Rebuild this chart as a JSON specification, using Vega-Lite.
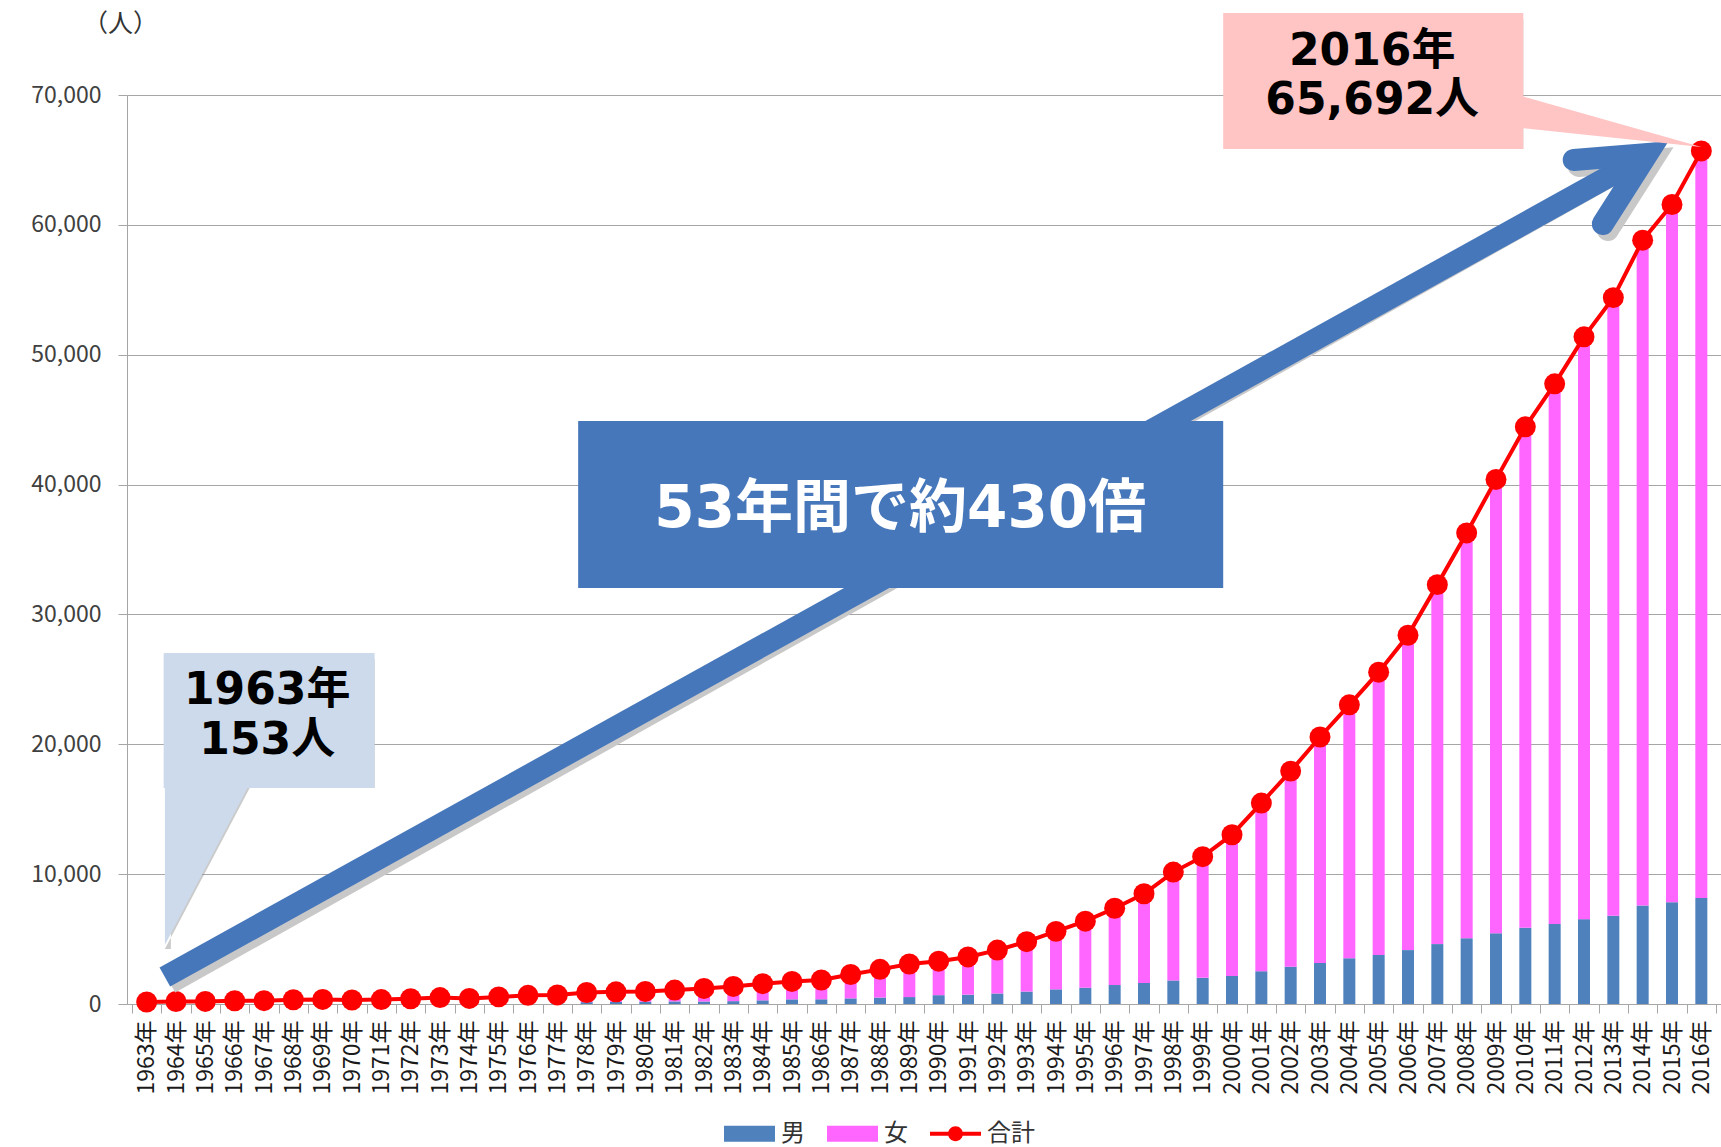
{
  "$schema": "https://vega.github.io/schema/vega-lite/v6.json",
  "autosize": "none",
  "width": 1594,
  "height": 909,
  "padding": {"left": 127, "top": 95, "right": 0, "bottom": 143},
  "background": "white",
  "config": {"view": {"stroke": null}, "font": "Noto Sans CJK JP",
    "axisX": {"labelOverlap": false, "labelBound": false, "labelFlush": false, "grid": false, "title": null}},
  "resolve": {"axis": {"x": "independent"}},
  "datasets": {
    "bars": [
      {"year":1963,"sex":"男","n":20},{"year":1963,"sex":"女","n":133},
      {"year":1964,"sex":"男","n":40},{"year":1964,"sex":"女","n":151},
      {"year":1965,"sex":"男","n":36},{"year":1965,"sex":"女","n":162},
      {"year":1966,"sex":"男","n":42},{"year":1966,"sex":"女","n":210},
      {"year":1967,"sex":"男","n":43},{"year":1967,"sex":"女","n":212},
      {"year":1968,"sex":"男","n":57},{"year":1968,"sex":"女","n":270},
      {"year":1969,"sex":"男","n":57},{"year":1969,"sex":"女","n":295},
      {"year":1970,"sex":"男","n":64},{"year":1970,"sex":"女","n":246},
      {"year":1971,"sex":"男","n":57},{"year":1971,"sex":"女","n":282},
      {"year":1972,"sex":"男","n":73},{"year":1972,"sex":"女","n":332},
      {"year":1973,"sex":"男","n":87},{"year":1973,"sex":"女","n":408},
      {"year":1974,"sex":"男","n":66},{"year":1974,"sex":"女","n":361},
      {"year":1975,"sex":"男","n":102},{"year":1975,"sex":"女","n":446},
      {"year":1976,"sex":"男","n":129},{"year":1976,"sex":"女","n":537},
      {"year":1977,"sex":"男","n":139},{"year":1977,"sex":"女","n":561},
      {"year":1978,"sex":"男","n":143},{"year":1978,"sex":"女","n":744},
      {"year":1979,"sex":"男","n":169},{"year":1979,"sex":"女","n":768},
      {"year":1980,"sex":"男","n":174},{"year":1980,"sex":"女","n":794},
      {"year":1981,"sex":"男","n":200},{"year":1981,"sex":"女","n":872},
      {"year":1982,"sex":"男","n":194},{"year":1982,"sex":"女","n":1007},
      {"year":1983,"sex":"男","n":221},{"year":1983,"sex":"女","n":1133},
      {"year":1984,"sex":"男","n":281},{"year":1984,"sex":"女","n":1286},
      {"year":1985,"sex":"男","n":359},{"year":1985,"sex":"女","n":1381},
      {"year":1986,"sex":"男","n":364},{"year":1986,"sex":"女","n":1487},
      {"year":1987,"sex":"男","n":434},{"year":1987,"sex":"女","n":1837},
      {"year":1988,"sex":"男","n":495},{"year":1988,"sex":"女","n":2173},
      {"year":1989,"sex":"男","n":534},{"year":1989,"sex":"女","n":2544},
      {"year":1990,"sex":"男","n":680},{"year":1990,"sex":"女","n":2618},
      {"year":1991,"sex":"男","n":720},{"year":1991,"sex":"女","n":2905},
      {"year":1992,"sex":"男","n":811},{"year":1992,"sex":"女","n":3341},
      {"year":1993,"sex":"男","n":958},{"year":1993,"sex":"女","n":3844},
      {"year":1994,"sex":"男","n":1128},{"year":1994,"sex":"女","n":4465},
      {"year":1995,"sex":"男","n":1255},{"year":1995,"sex":"女","n":5123},
      {"year":1996,"sex":"男","n":1461},{"year":1996,"sex":"女","n":5912},
      {"year":1997,"sex":"男","n":1625},{"year":1997,"sex":"女","n":6866},
      {"year":1998,"sex":"男","n":1812},{"year":1998,"sex":"女","n":8346},
      {"year":1999,"sex":"男","n":2014},{"year":1999,"sex":"女","n":9332},
      {"year":2000,"sex":"男","n":2158},{"year":2000,"sex":"女","n":10878},
      {"year":2001,"sex":"男","n":2525},{"year":2001,"sex":"女","n":12950},
      {"year":2002,"sex":"男","n":2875},{"year":2002,"sex":"女","n":15059},
      {"year":2003,"sex":"男","n":3159},{"year":2003,"sex":"女","n":17402},
      {"year":2004,"sex":"男","n":3523},{"year":2004,"sex":"女","n":19515},
      {"year":2005,"sex":"男","n":3779},{"year":2005,"sex":"女","n":21775},
      {"year":2006,"sex":"男","n":4150},{"year":2006,"sex":"女","n":24245},
      {"year":2007,"sex":"男","n":4613},{"year":2007,"sex":"女","n":27682},
      {"year":2008,"sex":"男","n":5063},{"year":2008,"sex":"女","n":31213},
      {"year":2009,"sex":"男","n":5447},{"year":2009,"sex":"女","n":34952},
      {"year":2010,"sex":"男","n":5869},{"year":2010,"sex":"女","n":38580},
      {"year":2011,"sex":"男","n":6162},{"year":2011,"sex":"女","n":41594},
      {"year":2012,"sex":"男","n":6534},{"year":2012,"sex":"女","n":44842},
      {"year":2013,"sex":"男","n":6791},{"year":2013,"sex":"女","n":47606},
      {"year":2014,"sex":"男","n":7586},{"year":2014,"sex":"女","n":51234},
      {"year":2015,"sex":"男","n":7840},{"year":2015,"sex":"女","n":53728},
      {"year":2016,"sex":"男","n":8167},{"year":2016,"sex":"女","n":57525}
    ],
    "totals": [
      {"year":1963,"total":153},{"year":1964,"total":191},{"year":1965,"total":198},{"year":1966,"total":252},
      {"year":1967,"total":255},{"year":1968,"total":327},{"year":1969,"total":352},{"year":1970,"total":310},
      {"year":1971,"total":339},{"year":1972,"total":405},{"year":1973,"total":495},{"year":1974,"total":427},
      {"year":1975,"total":548},{"year":1976,"total":666},{"year":1977,"total":700},{"year":1978,"total":887},
      {"year":1979,"total":937},{"year":1980,"total":968},{"year":1981,"total":1072},{"year":1982,"total":1201},
      {"year":1983,"total":1354},{"year":1984,"total":1567},{"year":1985,"total":1740},{"year":1986,"total":1851},
      {"year":1987,"total":2271},{"year":1988,"total":2668},{"year":1989,"total":3078},{"year":1990,"total":3298},
      {"year":1991,"total":3625},{"year":1992,"total":4152},{"year":1993,"total":4802},{"year":1994,"total":5593},
      {"year":1995,"total":6378},{"year":1996,"total":7373},{"year":1997,"total":8491},{"year":1998,"total":10158},
      {"year":1999,"total":11346},{"year":2000,"total":13036},{"year":2001,"total":15475},{"year":2002,"total":17934},
      {"year":2003,"total":20561},{"year":2004,"total":23038},{"year":2005,"total":25554},{"year":2006,"total":28395},
      {"year":2007,"total":32295},{"year":2008,"total":36276},{"year":2009,"total":40399},{"year":2010,"total":44449},
      {"year":2011,"total":47756},{"year":2012,"total":51376},{"year":2013,"total":54397},{"year":2014,"total":58820},
      {"year":2015,"total":61568},{"year":2016,"total":65692}
    ]
  },
  "layer": [
    {
      "data": {"name": "bars"},
      "mark": {"type": "bar", "width": 12, "orient": "vertical"},
      "encoding": {
        "x": {"field": "year", "type": "quantitative",
          "scale": {"domain": [1962.5, 2016.5], "nice": false, "zero": false},
          "axis": {"title": null, "orient": "bottom", "values": [1963,1964,1965,1966,1967,1968,1969,1970,1971,1972,1973,1974,1975,1976,1977,1978,1979,1980,1981,1982,1983,1984,1985,1986,1987,1988,1989,1990,1991,1992,1993,1994,1995,1996,1997,1998,1999,2000,2001,2002,2003,2004,2005,2006,2007,2008,2009,2010,2011,2012,2013,2014,2015,2016],
            "labelExpr": "datum.value + '年'", "labelAngle": -90, "labelFontSize": 23, "labelColor": "#1a1a1a",
            "labelFont": "Noto Sans CJK JP", "labelPadding": 16, "ticks": false, "domainColor": "#A6A6A6",
            "grid": false, "labelOverlap": false, "labelBound": false, "labelFlush": false}},
        "y": {"field": "n", "type": "quantitative", "stack": "zero",
          "scale": {"domain": [0, 70000], "nice": false},
          "axis": {"title": "（人）", "titleAngle": 0, "titleX": -7, "titleY": -72, "titleAlign": "center", "titleBaseline": "middle",
            "titleFontSize": 25, "titleFontWeight": "normal", "titleColor": "#333333", "titleFont": "Noto Sans CJK JP",
            "values": [0,10000,20000,30000,40000,50000,60000,70000], "format": ",d",
            "labelFontSize": 23, "labelColor": "#404040", "labelFont": "Noto Sans CJK JP", "labelPadding": 17, "tickSize": 9, "tickColor": "#A6A6A6",
            "domainColor": "#A6A6A6", "gridColor": "#A6A6A6", "gridWidth": 1.2}},
        "color": {"field": "sex", "type": "nominal",
          "scale": {"domain": ["男", "女", "合計"], "range": ["#4F81BD", "#FF66FF", "#FF0000"]},
          "legend": {"title": null, "orient": "none", "direction": "horizontal", "legendX": 597, "legendY": 1013,
            "symbolSize": 2601, "labelFontSize": 24, "labelFont": "Noto Sans CJK JP", "labelColor": "#333333",
            "labelOffset": 6, "columnPadding": 22, "padding": 0, "symbolStrokeWidth": 0,
            "encode": {"symbols": {"update": {
              "shape": {"signal": "datum.value === '合計' ? 'M-1,-0.08H-0.25V0.08H-1Z M0.25,-0.08H1V0.08H0.25Z M0.29,0A0.29,0.29,0,1,1,-0.29,0A0.29,0.29,0,1,1,0.29,0Z' : 'M-1,-0.31H1V0.31H-1Z'"},
              "fill": {"scale": "color", "field": "value"},
              "opacity": {"value": 1},
              "strokeWidth": {"value": 0}}}}}},
        "order": {"field": "sex", "sort": "descending"}
      }
    },
    {
      "data": {"name": "totals"},
      "mark": {"type": "line", "strokeWidth": 4},
      "encoding": {
        "x": {"field": "year", "type": "quantitative",
          "axis": {"title": null, "orient": "bottom", "labels": false, "domain": false, "grid": false, "ticks": true,
            "tickSize": 9, "tickColor": "#A6A6A6",
            "values": [1962.5,1963.5,1964.5,1965.5,1966.5,1967.5,1968.5,1969.5,1970.5,1971.5,1972.5,1973.5,1974.5,1975.5,1976.5,1977.5,1978.5,1979.5,1980.5,1981.5,1982.5,1983.5,1984.5,1985.5,1986.5,1987.5,1988.5,1989.5,1990.5,1991.5,1992.5,1993.5,1994.5,1995.5,1996.5,1997.5,1998.5,1999.5,2000.5,2001.5,2002.5,2003.5,2004.5,2005.5,2006.5,2007.5,2008.5,2009.5,2010.5,2011.5,2012.5,2013.5,2014.5,2015.5,2016.5]}},
        "y": {"field": "total", "type": "quantitative"},
        "color": {"datum": "合計", "type": "nominal"}
      }
    },
    {
      "data": {"name": "totals"},
      "mark": {"type": "circle", "size": 440, "opacity": 1},
      "encoding": {
        "x": {"field": "year", "type": "quantitative", "axis": null},
        "y": {"field": "total", "type": "quantitative"},
        "color": {"datum": "合計", "type": "nominal"}
      }
    },
    {
      "data": {"values": [{"x": 1963.62, "y": 2079, "x2": 2013.75, "y2": 64842}]},
      "mark": {"type": "rule", "strokeWidth": 22, "color": "#C8C8C8", "strokeCap": "butt", "xOffset": 5, "yOffset": 6},
      "encoding": {
        "x": {"field": "x", "type": "quantitative", "axis": null}, "x2": {"field": "x2"},
        "y": {"field": "y", "type": "quantitative"}, "y2": {"field": "y2"}
      }
    },
    {
      "data": {"values": [{"i": 0, "x": 2011.65, "y": 64997}, {"i": 1, "x": 2014.16, "y": 65459}, {"i": 2, "x": 2012.64, "y": 60068}]},
      "mark": {"type": "line", "strokeWidth": 22, "color": "#C8C8C8", "strokeCap": "round", "strokeJoin": "miter", "xOffset": 5, "yOffset": 6},
      "encoding": {
        "x": {"field": "x", "type": "quantitative", "axis": null},
        "y": {"field": "y", "type": "quantitative"},
        "order": {"field": "i"}
      }
    },
    {
      "data": {"values": [{"x": 1963.62, "y": 2079, "x2": 2013.75, "y2": 64842}]},
      "mark": {"type": "rule", "strokeWidth": 22, "color": "#4677BB", "strokeCap": "butt"},
      "encoding": {
        "x": {"field": "x", "type": "quantitative", "axis": null}, "x2": {"field": "x2"},
        "y": {"field": "y", "type": "quantitative"}, "y2": {"field": "y2"}
      }
    },
    {
      "data": {"values": [{"i": 0, "x": 2011.65, "y": 64997}, {"i": 1, "x": 2014.16, "y": 65459}, {"i": 2, "x": 2012.64, "y": 60068}]},
      "mark": {"type": "line", "strokeWidth": 22, "color": "#4677BB", "strokeCap": "round", "strokeJoin": "miter"},
      "encoding": {
        "x": {"field": "x", "type": "quantitative", "axis": null},
        "y": {"field": "y", "type": "quantitative"},
        "order": {"field": "i"}
      }
    },
    {
      "data": {"values": [{"x": 1977.71, "x2": 1999.70, "y": 44897, "y2": 32036}]},
      "mark": {"type": "rect", "color": "#4677BB"},
      "encoding": {
        "x": {"field": "x", "type": "quantitative", "axis": null}, "x2": {"field": "x2"},
        "y": {"field": "y", "type": "quantitative"}, "y2": {"field": "y2"}
      }
    },
    {
      "data": {"values": [{"x": 1988.69, "y": 38043, "t": "53年間で約430倍"}]},
      "mark": {"type": "text", "color": "white", "fontSize": 58, "fontWeight": "bold", "font": "DejaVu Sans, Noto Sans CJK JP", "align": "center", "baseline": "middle"},
      "encoding": {
        "x": {"field": "x", "type": "quantitative", "axis": null},
        "y": {"field": "y", "type": "quantitative"},
        "text": {"field": "t"}
      }
    },
    {
      "data": {"values": [{"x": 1963.58, "x2": 1970.77, "y": 27031, "y2": 16634}, {"x": 1999.70, "x2": 2009.93, "y": 76317, "y2": 65844}]},
      "mark": {"type": "rect", "color": "#8C8C8C", "opacity": 0.55, "xOffset": 6, "yOffset": 6},
      "encoding": {
        "x": {"field": "x", "type": "quantitative", "axis": null}, "x2": {"field": "x2"},
        "y": {"field": "y", "type": "quantitative"}, "y2": {"field": "y2"}
      }
    },
    {
      "data": {"values": [{"y": 17200, "x": 1963.62, "x2": 1966.57}, {"y": 4544, "x": 1963.62, "x2": 1963.62}]},
      "mark": {"type": "area", "orient": "horizontal", "color": "#8C8C8C", "opacity": 0.45, "xOffset": 6, "yOffset": 4},
      "encoding": {
        "y": {"field": "y", "type": "quantitative"},
        "x": {"field": "x", "type": "quantitative", "stack": null, "axis": null}, "x2": {"field": "x2"}
      }
    },
    {
      "data": {"values": [{"y": 17200, "x": 1963.62, "x2": 1966.57}, {"y": 4544, "x": 1963.62, "x2": 1963.62}]},
      "mark": {"type": "area", "orient": "horizontal", "color": "#CCDAEB", "opacity": 1},
      "encoding": {
        "y": {"field": "y", "type": "quantitative"},
        "x": {"field": "x", "type": "quantitative", "stack": null, "axis": null}, "x2": {"field": "x2"}
      }
    },
    {
      "data": {"values": [{"x": 1963.58, "x2": 1970.77, "y": 27031, "y2": 16634}]},
      "mark": {"type": "rect", "color": "#CCDAEB"},
      "encoding": {
        "x": {"field": "x", "type": "quantitative", "axis": null}, "x2": {"field": "x2"},
        "y": {"field": "y", "type": "quantitative"}, "y2": {"field": "y2"}
      }
    },
    {
      "data": {"values": [{"x": 2009.5, "y": 70156, "y2": 67538}, {"x": 2016.0, "y": 66000, "y2": 66000}]},
      "mark": {"type": "area", "color": "#FFC4C4", "opacity": 1},
      "encoding": {
        "x": {"field": "x", "type": "quantitative", "axis": null},
        "y": {"field": "y", "type": "quantitative", "stack": null}, "y2": {"field": "y2"}
      }
    },
    {
      "data": {"values": [{"x": 1999.70, "x2": 2009.93, "y": 76317, "y2": 65844}]},
      "mark": {"type": "rect", "color": "#FFC4C4"},
      "encoding": {
        "x": {"field": "x", "type": "quantitative", "axis": null}, "x2": {"field": "x2"},
        "y": {"field": "y", "type": "quantitative"}, "y2": {"field": "y2"}
      }
    },
    {
      "data": {"values": [{"x": 1967.11, "y": 24104, "t": "1963年"}, {"x": 1967.11, "y": 20254, "t": "153人"}, {"x": 2004.78, "y": 73314, "t": "2016年"}, {"x": 2004.78, "y": 69540, "t": "65,692人"}]},
      "mark": {"type": "text", "color": "black", "fontSize": 44, "fontWeight": "bold", "font": "DejaVu Sans, Noto Sans CJK JP", "align": "center", "baseline": "middle"},
      "encoding": {
        "x": {"field": "x", "type": "quantitative", "axis": null},
        "y": {"field": "y", "type": "quantitative"},
        "text": {"field": "t"}
      }
    }
  ]
}
